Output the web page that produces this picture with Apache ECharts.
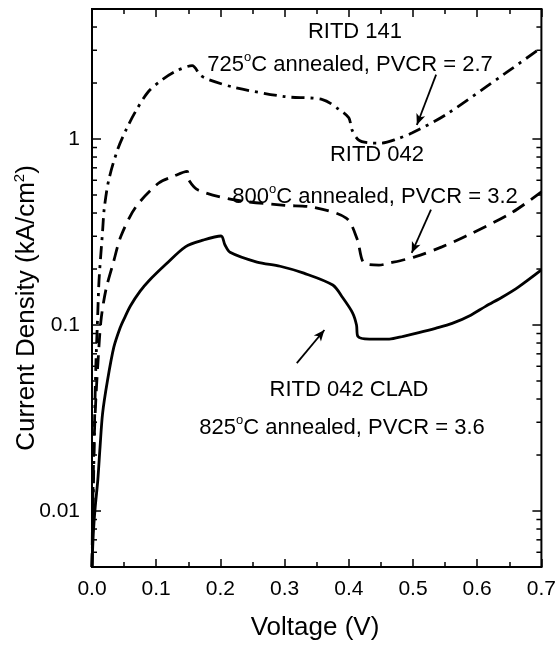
<!DOCTYPE html>
<html>
<head>
<meta charset="utf-8">
<script src="https://cdn.jsdelivr.net/npm/echarts@6/dist/echarts.min.js"></script>
<style>
  html, body { margin: 0; padding: 0; background: #fff; }
  #chart { width: 559px; height: 645px; }
</style>
</head>
<body>
<div id="chart"></div>
<script>
// RITD 141, 725 C annealed (dash-dot)
const voltage141 = [0, 0.002, 0.004, 0.006, 0.009, 0.011, 0.0165, 0.019, 0.026, 0.04, 0.053, 0.068, 0.088, 0.11, 0.13, 0.156,
  0.169, 0.181, 0.223, 0.30, 0.359, 0.385, 0.40, 0.405, 0.415, 0.43, 0.45, 0.475, 0.499, 0.551, 0.644, 0.70];
const current141 = [0.005, 0.012, 0.03, 0.06, 0.116, 0.175, 0.32, 0.42, 0.6, 0.88, 1.12, 1.41, 1.80, 2.09, 2.31, 2.48,
  2.2, 2.09, 1.89, 1.69, 1.63, 1.44, 1.3, 1.12, 0.99, 0.955, 0.95, 1.0, 1.08, 1.35, 2.26, 3.1];

// RITD 042, 800 C annealed (dashed)
const voltage042 = [0, 0.001, 0.003, 0.006, 0.0093, 0.014, 0.0217, 0.033, 0.045, 0.068, 0.104, 0.127, 0.148, 0.151, 0.166,
  0.223, 0.30, 0.344, 0.396, 0.413, 0.424, 0.447, 0.463, 0.504, 0.545, 0.582, 0.653, 0.70];
const current042 = [0.005, 0.01, 0.022, 0.04, 0.063, 0.106, 0.155, 0.215, 0.30, 0.43, 0.58, 0.63, 0.67, 0.60, 0.53,
  0.47, 0.44, 0.43, 0.376, 0.29, 0.215, 0.21, 0.215, 0.233, 0.263, 0.30, 0.40, 0.52];

// RITD 042 CLAD, 825 C annealed (solid)
const voltageClad = [0, 0.002, 0.005, 0.009, 0.0125, 0.0165, 0.024, 0.034, 0.044, 0.05, 0.06, 0.075, 0.088, 0.115, 0.146, 0.173, 0.201,
  0.207, 0.215, 0.257, 0.293, 0.33, 0.375, 0.39, 0.406, 0.412, 0.414, 0.432, 0.463, 0.485, 0.509, 0.535, 0.561, 0.59, 0.613,
  0.64, 0.664, 0.70];
const currentClad = [0.005, 0.0075, 0.0105, 0.0146, 0.022, 0.0335, 0.05, 0.076, 0.097, 0.108, 0.127, 0.152, 0.172, 0.212, 0.264, 0.286, 0.301,
  0.27, 0.246, 0.218, 0.207, 0.19, 0.164, 0.141, 0.116, 0.1, 0.087, 0.084, 0.084, 0.087, 0.091, 0.096, 0.102, 0.113, 0.126,
  0.142, 0.16, 0.198];

const yLabelValues = [0.01, 0.1, 1];
const yMajorTicks = [0.01, 0.1, 1];
const yMinorTicks = [0.006, 0.007, 0.008, 0.009, 0.02, 0.03, 0.04, 0.05, 0.06, 0.07, 0.08, 0.09,
  0.2, 0.3, 0.4, 0.5, 0.6, 0.7, 0.8, 0.9, 2, 3, 4];

// arrows: [from, to] in data coords
const arrow141 = [[0.536, 2.22], [0.506, 1.19]];
const arrow042 = [[0.528, 0.417], [0.498, 0.244]];
const arrowClad = [[0.319, 0.0624], [0.362, 0.094]];

const FONT = '"Liberation Sans", Arial, Helvetica, sans-serif';

const pairs = (xs, ys) => xs.map((x, i) => [x, ys[i]]);
const arrowLine = (a) => [[{ coord: a[0], symbol: 'none' }, { coord: a[1], symbol: 'arrow' }]];

const tickData = yMajorTicks.map((v) => [0, v, 1]).concat(yMinorTicks.map((v) => [0, v, 0]));

const chart = echarts.init(document.getElementById('chart'), null, { renderer: 'canvas' });

const axisX = (pos) => ({
  type: 'value',
  position: pos,
  min: 0,
  max: 0.7,
  interval: 0.1,
  axisLine: { show: true, onZero: false, lineStyle: { color: '#000', width: 2 } },
  axisTick: { show: true, inside: true, length: 8, lineStyle: { color: '#000', width: 1.5 } },
  minorTick: { show: true, splitNumber: 2, length: 5, lineStyle: { color: '#000', width: 1.5 } },
  splitLine: { show: false },
  axisLabel: {
    show: pos === 'bottom',
    color: '#000',
    fontSize: 21,
    fontFamily: FONT,
    margin: 12,
    formatter: (v) => v.toFixed(1),
  },
});

const supRich = (size, supSize, lift) => ({
  n: { fontSize: size, fontFamily: FONT, fill: '#000', color: '#000', verticalAlign: 'bottom' },
  s: { fontSize: supSize, fontFamily: FONT, fill: '#000', color: '#000', verticalAlign: 'bottom', padding: [0, 0, lift, 0] },
});

const annText = (x, y, txt) => ({
  type: 'text',
  x: x,
  y: y,
  style: { text: txt, rich: supRich(22, 13, 12), align: 'center', verticalAlign: 'middle' },
});

const plainText = (x, y, txt, size) => ({
  type: 'text',
  x: x,
  y: y,
  style: { text: txt, fontSize: size, fontFamily: FONT, fill: '#000', align: 'center', verticalAlign: 'middle' },
});

const arrowMark = (a) => ({
  silent: true,
  symbolSize: [7, 11],
  label: { show: false },
  lineStyle: { color: '#000', width: 1.8, type: 'solid' },
  data: arrowLine(a),
});

const option = {
  animation: false,
  backgroundColor: '#fff',
  grid: {
    left: 92,
    right: 15,
    top: 9,
    bottom: 78,
    show: true,
    borderColor: '#000',
    borderWidth: 2,
  },
  xAxis: [axisX('bottom'), axisX('top')],
  yAxis: {
    type: 'log',
    logBase: 10,
    min: 0.005,
    max: 5,
    axisLine: { show: true, lineStyle: { color: '#000', width: 2 } },
    axisTick: { show: false },
    splitLine: { show: false },
    axisLabel: {
      color: '#000',
      fontSize: 21,
      fontFamily: FONT,
      margin: 12,
      showMinLabel: false,
      showMaxLabel: false,
      formatter: (v) => {
        const hit = yLabelValues.find((t) => Math.abs(v - t) / t < 1e-6);
        return hit === undefined ? '' : String(hit);
      },
    },
  },
  series: [
    {
      name: 'RITD 141',
      type: 'line',
      data: pairs(voltage141, current141),
      showSymbol: false,
      smooth: 0.3,
      lineStyle: { color: '#000', width: 2.8, type: [13, 6, 3, 6] },
      markLine: arrowMark(arrow141),
    },
    {
      name: 'RITD 042',
      type: 'line',
      data: pairs(voltage042, current042),
      showSymbol: false,
      smooth: 0.3,
      lineStyle: { color: '#000', width: 2.8, type: [14, 8] },
      markLine: arrowMark(arrow042),
    },
    {
      name: 'RITD 042 CLAD',
      type: 'line',
      data: pairs(voltageClad, currentClad),
      showSymbol: false,
      smooth: 0.3,
      lineStyle: { color: '#000', width: 2.8 },
      markLine: arrowMark(arrowClad),
    },
    {
      type: 'custom',
      silent: true,
      clip: false,
      data: tickData,
      encode: { x: 0, y: 1 },
      renderItem: (params, api) => {
        const p = api.coord([0, api.value(1)]);
        const cs = params.coordSys;
        const len = api.value(2) ? 9 : 5;
        const st = { stroke: '#000', lineWidth: 1.5 };
        return {
          type: 'group',
          children: [
            { type: 'line', shape: { x1: cs.x, y1: p[1], x2: cs.x + len, y2: p[1] }, style: st },
            { type: 'line', shape: { x1: cs.x + cs.width - len, y1: p[1], x2: cs.x + cs.width, y2: p[1] }, style: st },
          ],
        };
      },
    },
  ],
  graphic: [
    plainText(355, 32, 'RITD 141', 22),
    annText(350, 63, '{n|725}{s|o}{n|C annealed, PVCR = 2.7}'),
    plainText(377, 155, 'RITD 042', 22),
    annText(375, 195, '{n|800}{s|o}{n|C annealed, PVCR = 3.2}'),
    plainText(349, 390, 'RITD 042 CLAD', 22),
    annText(342, 426, '{n|825}{s|o}{n|C annealed, PVCR = 3.6}'),
    plainText(315, 628, 'Voltage (V)', 26),
    {
      type: 'text',
      x: 26,
      y: 308,
      rotation: Math.PI / 2,
      style: {
        text: '{n|Current Density (kA/cm}{s|2}{n|)}',
        rich: supRich(26, 15, 13),
        align: 'center',
        verticalAlign: 'middle',
      },
    },
  ],
};

chart.setOption(option);
</script>
</body>
</html>
